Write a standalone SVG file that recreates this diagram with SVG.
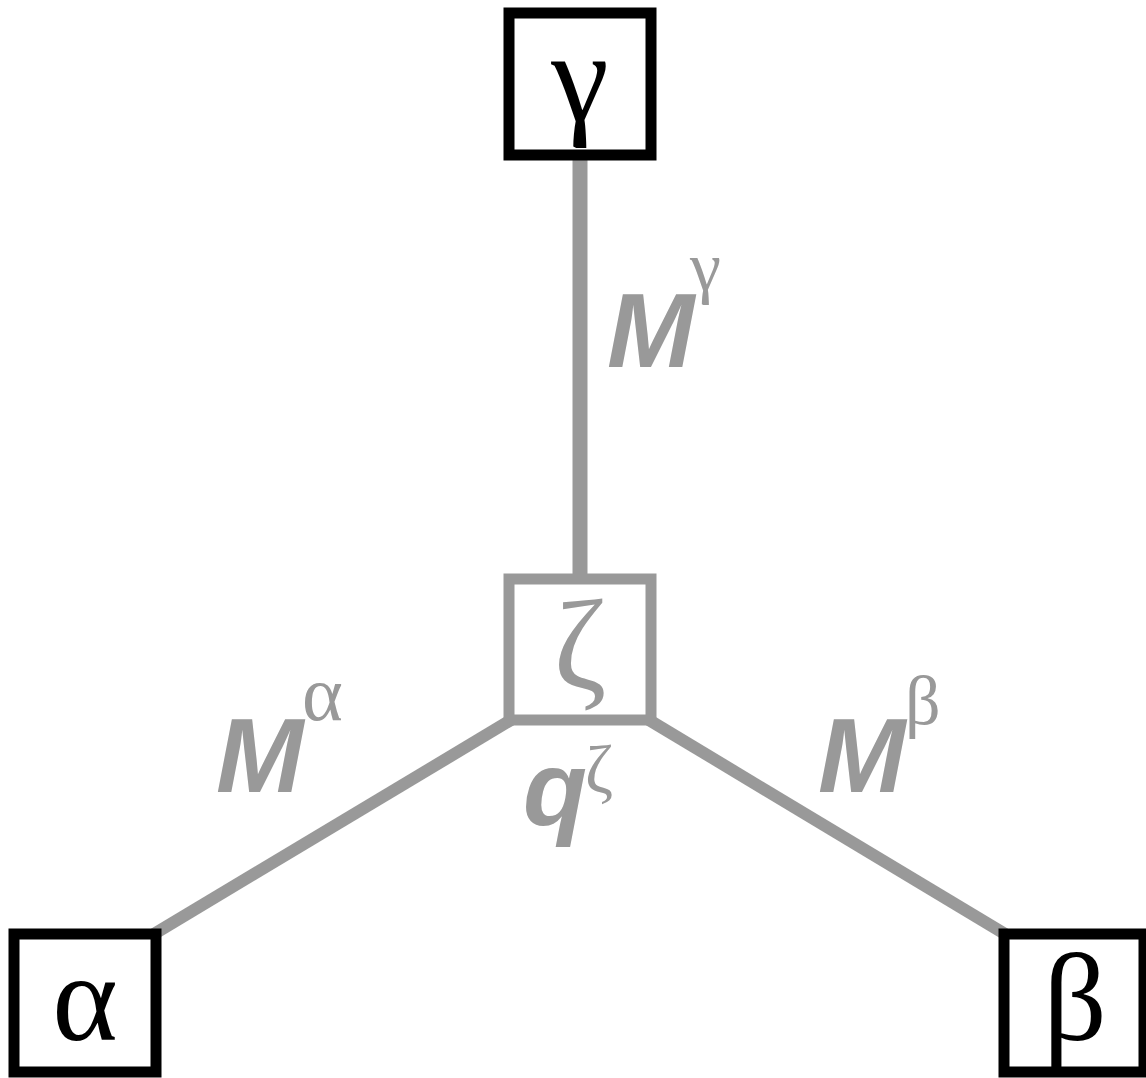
<svg xmlns="http://www.w3.org/2000/svg" width="1146" height="1078" viewBox="0 0 1146 1078">
<style>
.box{fill:#fff;stroke:#000;stroke-width:11}
.gbox{fill:#fff;stroke:#999;stroke-width:11}
.greek{font-family:"Liberation Serif","DejaVu Serif",serif;text-anchor:middle}
.lab{font-family:"Liberation Sans",Arial,sans-serif;font-weight:bold;font-style:italic;fill:#999}
.sup{font-family:"Liberation Serif","DejaVu Serif",serif;fill:#999}
.edge{stroke:#999;fill:none}
</style>
<rect width="1146" height="1078" fill="#fff"/>
<g id="connectors">
<line class="edge" x1="580" y1="155" x2="580" y2="579" stroke-width="15"/>
<line class="edge" x1="511" y1="720" x2="154" y2="934" stroke-width="12"/>
<line class="edge" x1="649" y1="720" x2="1005" y2="934" stroke-width="12"/>
</g>
<g id="node-gamma">
<rect class="box" x="509" y="13" width="142" height="142"/>
<text class="greek" x="580" y="120" font-size="130">γ</text>
</g>
<g id="node-zeta">
<rect class="gbox" x="509" y="579" width="142" height="141"/>
<text class="greek" x="580" y="688" font-size="128" fill="#999">ζ</text>
</g>
<g id="node-alpha">
<rect class="box" x="14" y="934" width="142" height="138"/>
<text class="greek" x="85" y="1040" font-size="125">α</text>
</g>
<g id="node-beta">
<rect class="box" x="1004" y="934" width="140" height="138"/>
<text class="greek" x="1075" y="1040" font-size="125">β</text>
</g>
<g id="labels">
<text class="lab" x="607" y="367" font-size="105">M</text>
<text class="sup" x="690" y="290" font-size="70">γ</text>
<text class="lab" x="216" y="792" font-size="105">M</text>
<text class="sup" x="302" y="720" font-size="78">α</text>
<text class="lab" x="818" y="792" font-size="105">M</text>
<text class="sup" x="905" y="724" font-size="70">β</text>
<text class="lab" x="523" y="825" font-size="105">q</text>
<text class="sup" x="585" y="792" font-size="68">ζ</text>
</g>
</svg>
